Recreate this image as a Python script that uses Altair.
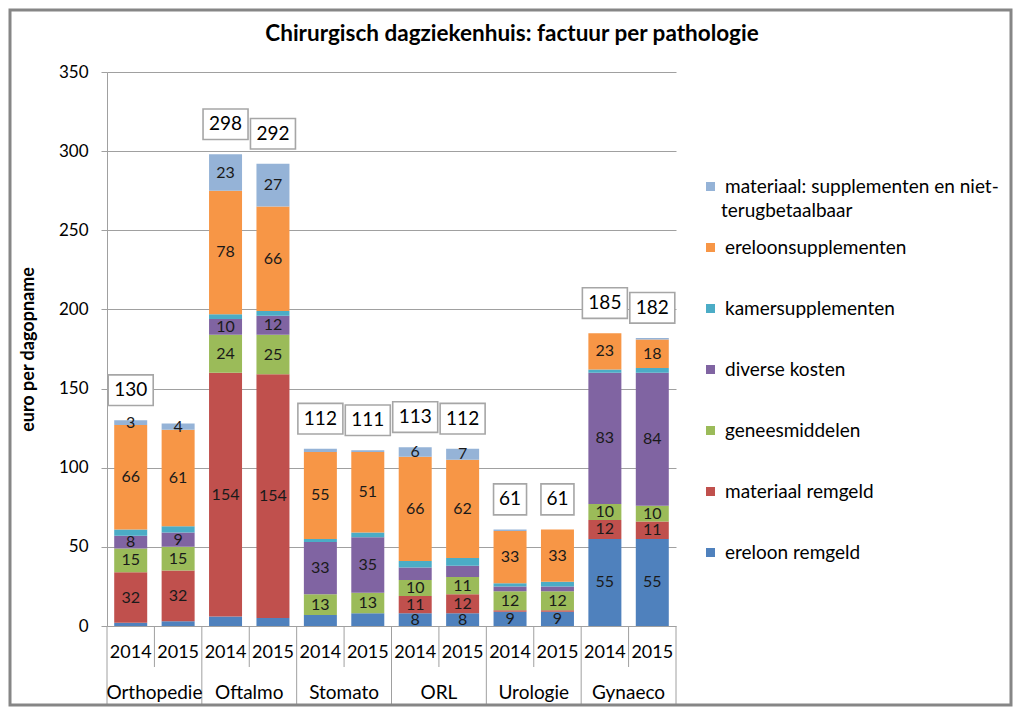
import altair as alt
import pandas as pd

# ---------------- data ----------------
pathologies = ["Orthopedie", "Oftalmo", "Stomato", "ORL", "Urologie", "Gynaeco"]
years = ["2014", "2015"]

# stacking order: bottom -> top
series_names = [
    "ereloon remgeld",
    "materiaal remgeld",
    "geneesmiddelen",
    "diverse kosten",
    "kamersupplementen",
    "ereloonsupplementen",
    "materiaal: supplementen en niet-terugbetaalbaar",
]
series_colors = ["#4F81BD", "#C0504D", "#9BBB59", "#8064A2", "#4BACC6", "#F79646", "#95B3D7"]

# values per bar: Ortho14, Ortho15, Oft14, Oft15, Stom14, Stom15, ORL14, ORL15, Uro14, Uro15, Gyn14, Gyn15
ereloon_remgeld     = [2, 3, 6, 5, 7, 8, 8, 8, 9, 9, 55, 55]
materiaal_remgeld   = [32, 32, 154, 154, 0, 0, 11, 12, 1, 1, 12, 11]
geneesmiddelen      = [15, 15, 24, 25, 13, 13, 10, 11, 12, 12, 10, 10]
diverse_kosten      = [8, 9, 10, 12, 33, 35, 8, 7, 3, 3, 83, 84]
kamersupplementen   = [4, 4, 3, 3, 2, 3, 4, 5, 2, 3, 2, 3]
ereloonsupplementen = [66, 61, 78, 66, 55, 51, 66, 62, 33, 33, 23, 18]
materiaal_supp      = [3, 4, 23, 27, 2, 1, 6, 7, 1, 0, 0, 1]

# which segment values carry a data label (1 = shown)
show_ereloon_remgeld     = [0, 0, 0, 0, 0, 0, 1, 1, 1, 1, 1, 1]
show_materiaal_remgeld   = [1, 1, 1, 1, 0, 0, 1, 1, 0, 0, 1, 1]
show_geneesmiddelen      = [1, 1, 1, 1, 1, 1, 1, 1, 1, 1, 1, 1]
show_diverse_kosten      = [1, 1, 1, 1, 1, 1, 0, 0, 0, 0, 1, 1]
show_kamersupplementen   = [0, 0, 0, 0, 0, 0, 0, 0, 0, 0, 0, 0]
show_ereloonsupplementen = [1, 1, 1, 1, 1, 1, 1, 1, 1, 1, 1, 1]
show_materiaal_supp      = [1, 1, 1, 1, 0, 0, 1, 1, 0, 0, 0, 0]

# totals shown in boxes (None = no box)
totals = [130, None, 298, 292, 112, 111, 113, 112, 61, 61, 185, 182]

title_text = "Chirurgisch dagziekenhuis: factuur per pathologie"
y_title = "euro per dagopname"

series_values = [ereloon_remgeld, materiaal_remgeld, geneesmiddelen, diverse_kosten,
                 kamersupplementen, ereloonsupplementen, materiaal_supp]
series_show = [show_ereloon_remgeld, show_materiaal_remgeld, show_geneesmiddelen,
               show_diverse_kosten, show_kamersupplementen, show_ereloonsupplementen,
               show_materiaal_supp]

keys = [f"{p} {y}" for p in pathologies for y in years]

rows = []
for si, (name, vals, flags) in enumerate(zip(series_names, series_values, series_show)):
    for bi, k in enumerate(keys):
        rows.append(dict(key=k, pathology=pathologies[bi // 2], year=years[bi % 2],
                         series=name, order=si, value=vals[bi], show=flags[bi]))
df = pd.DataFrame(rows)

bars_df = pd.DataFrame(dict(key=keys,
                            pathology=[pathologies[i // 2] for i in range(len(keys))],
                            year=[years[i % 2] for i in range(len(keys))],
                            total=totals))
tot_df = bars_df.dropna(subset=["total"]).copy()
tot_df["total"] = tot_df["total"].astype(int)
tot_df["digits"] = tot_df["total"].astype(str).str.len()

legend_order = series_names[::-1]
legend_colors = series_colors[::-1]

# ---------------- layout constants ----------------
W, H = 569, 554
FONT = "Lato"
GRAY = "#a0a0a0"

xscale = alt.Scale(domain=keys, paddingInner=0, paddingOuter=0)
yscale = alt.Scale(domain=[0, 350], nice=False)

def X(**kw):
    return alt.X("key:N", scale=xscale, sort=keys, axis=None, **kw)

stacked = alt.Chart(df).transform_stack(
    stack="value", groupby=["key"], as_=["y0", "y1"],
    sort=[alt.SortField("order", "ascending")]
)

bars = stacked.mark_bar(size=33, strokeWidth=0).encode(
    x=X(),
    y=alt.Y("y0:Q", scale=yscale,
            axis=alt.Axis(values=[0, 50, 100, 150, 200, 250, 300, 350], grid=True,
                          gridColor=GRAY, domainColor=GRAY, tickColor=GRAY, tickSize=6,
                          labelFont=FONT, labelFontSize=17, labelColor="black", labelPadding=13,
                          title=y_title, titleFont=FONT, titleFontSize=18,
                          titleFontWeight="bold", titleColor="black", titlePadding=21)),
    y2="y1:Q",
    color=alt.Color("series:N",
                    scale=alt.Scale(domain=legend_order, range=legend_colors),
                    legend=alt.Legend(orient="none", legendX=594, legendY=105, title=None,
                                      symbolType="square", symbolSize=81, symbolStrokeWidth=0,
                                      labelFont=FONT, labelFontSize=19, labelColor="black",
                                      labelLimit=400, rowPadding=41, labelOffset=5, padding=0,
                                      labelExpr="datum.label == 'materiaal: supplementen en niet-terugbetaalbaar' ? 'materiaal: supplementen en niet-' : datum.label")),
)

seg_labels = stacked.transform_filter("datum.show == 1").transform_calculate(
    mid="(datum.y0 + datum.y1) / 2"
).mark_text(font=FONT, fontSize=16, color="#1a1a1a", baseline="middle").encode(
    x=X(), y=alt.Y("mid:Q", scale=yscale), text="value:Q"
)

tot_base = alt.Chart(tot_df).transform_calculate(pos="datum.total + 19")
box3 = tot_base.transform_filter("datum.digits == 3").mark_point(
    shape="M-1,-0.68L1,-0.68L1,0.68L-1,0.68Z", size=45 * 45, filled=True,
    fill="white", stroke="#a6a6a6", strokeWidth=1.6, opacity=1
).encode(x=X(), y=alt.Y("pos:Q", scale=yscale))
box2 = tot_base.transform_filter("datum.digits == 2").mark_point(
    shape="M-1,-0.94L1,-0.94L1,0.94L-1,0.94Z", size=33 * 33, filled=True,
    fill="white", stroke="#a6a6a6", strokeWidth=1.6, opacity=1
).encode(x=X(), y=alt.Y("pos:Q", scale=yscale))
tot_text = tot_base.mark_text(font=FONT, fontSize=19, color="black", baseline="middle").encode(
    x=X(), y=alt.Y("pos:Q", scale=yscale), text="total:Q"
)

# hand-built two-level category axis
axis_base = alt.Chart(bars_df)
short_ticks = axis_base.transform_filter("datum.year == '2015'").mark_rule(
    color=GRAY, strokeWidth=1
).encode(x=X(bandPosition=0), y=alt.value(H), y2=alt.value(H + 41))
long_ticks = axis_base.transform_filter("datum.year == '2014'").mark_rule(
    color=GRAY, strokeWidth=1
).encode(x=X(bandPosition=0), y=alt.value(H), y2=alt.value(H + 79))
end_tick = axis_base.transform_filter(
    f"datum.key == '{keys[-1]}'"
).mark_rule(color=GRAY, strokeWidth=1).encode(
    x=X(bandPosition=1), y=alt.value(H), y2=alt.value(H + 79))
year_labels = axis_base.mark_text(font=FONT, fontSize=18, color="black", baseline="middle").encode(
    x=X(), y=alt.value(H + 27), text="year:N")
group_labels = axis_base.transform_filter("datum.year == '2015'").mark_text(
    font=FONT, fontSize=19, color="black", baseline="middle"
).encode(x=X(bandPosition=0), y=alt.value(H + 67), text="pathology:N")

# second line of wrapped legend label, chart title, border
one = pd.DataFrame({"t": ["terugbetaalbaar"], "title": [title_text]})
legend_line2 = alt.Chart(one).mark_text(
    font=FONT, fontSize=19, color="black", align="left", baseline="middle"
).encode(x=alt.value(614), y=alt.value(139), text="t:N")

title_mark = alt.Chart(one).mark_text(
    font=FONT, fontSize=22.5, fontWeight="bold", color="black", align="center", baseline="middle"
).encode(x=alt.value(405), y=alt.value(-38), text="title:N")

border = alt.Chart(one).mark_rect(fill="transparent", stroke="#868686", strokeWidth=3).encode(
    x=alt.value(-97), x2=alt.value(W + 335), y=alt.value(-62), y2=alt.value(H + 79))

chart = alt.layer(
    bars, seg_labels, box3, box2, tot_text,
    short_ticks, long_ticks, end_tick, year_labels, group_labels,
    legend_line2, title_mark, border
).properties(
    width=W, height=H,
    autosize=alt.AutoSizeParams(type="none"),
    padding={"left": 99, "top": 64, "right": 337, "bottom": 81},
    background="white",
).configure_view(stroke=None)

chart.save("out.html", embed_options={"renderer": "svg", "actions": False})
